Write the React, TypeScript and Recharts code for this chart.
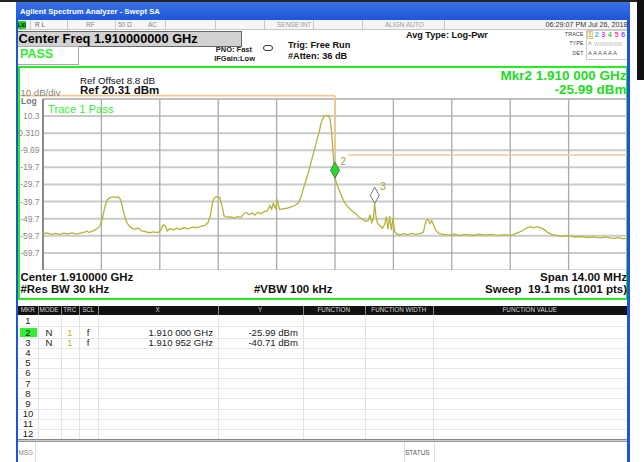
import React from 'react';
import { ComposedChart, Line, XAxis, YAxis, ReferenceLine, ReferenceDot } from 'recharts';

// ---------------- data ----------------
const centerMHz = 1910;
const startMHz = 1903;
const stopMHz = 1917;
const refLevelDbm = 20.31;
const bottomDbm = -79.69;
const yTopDomain = 23.2;

const traceOffsetMHz = [
  -7.0, -6.9, -6.8, -6.7, -6.6, -6.5, -6.4, -6.3, -6.2, -6.1, -6.0, -5.95, -5.9, -5.85, -5.75, -5.65, -5.58, -5.52,
  -5.46, -5.4, -5.32, -5.25, -5.2, -5.14, -5.09, -5.03, -4.98, -4.9, -4.8, -4.72, -4.65, -4.55, -4.45, -4.35, -4.25,
  -4.18, -4.12, -4.07, -4.02, -3.96, -3.88, -3.8, -3.72, -3.62, -3.52, -3.42, -3.32, -3.22, -3.12, -3.04, -2.98,
  -2.93, -2.88, -2.82, -2.76, -2.71, -2.66, -2.6, -2.5, -2.42, -2.34, -2.25, -2.18, -2.12, -2.06, -1.98, -1.92,
  -1.85, -1.78, -1.7, -1.62, -1.56, -1.52, -1.48, -1.43, -1.38, -1.33, -1.25, -1.15, -1.05, -0.96, -0.88, -0.82,
  -0.77, -0.7, -0.63, -0.56, -0.49, -0.43, -0.38, -0.34, -0.3, -0.26, -0.21, -0.16, -0.12, -0.08, -0.04, 0.0, 0.05,
  0.1, 0.16, 0.22, 0.29, 0.36, 0.43, 0.5, 0.58, 0.66, 0.74, 0.8, 0.84, 0.88, 0.92, 0.952, 0.98, 1.02, 1.08, 1.14,
  1.19, 1.23, 1.27, 1.31, 1.35, 1.39, 1.43, 1.48, 1.55, 1.64, 1.74, 1.84, 1.94, 2.04, 2.12, 2.18, 2.23, 2.28, 2.32,
  2.37, 2.43, 2.5, 2.6, 2.72, 2.85, 3.0, 3.15, 3.3, 3.45, 3.6, 3.75, 3.9, 4.05, 4.2, 4.32, 4.42, 4.52, 4.6, 4.68,
  4.76, 4.84, 4.92, 5.0, 5.08, 5.18, 5.3, 5.45, 5.6, 5.75, 5.9, 6.05, 6.2, 6.35, 6.5, 6.65, 6.8, 6.9, 7.0,
];
const traceDbm = [
  -58.5, -58.0, -58.8, -58.3, -58.9, -58.2, -58.6, -58.0, -58.7, -58.1, -57.6, -56.9, -57.8, -57.3, -56.2, -54.5, -50.0, -43.0,
  -38.8, -37.4, -37.0, -37.3, -36.9, -38.5, -43.5, -49.5, -52.4, -54.8, -55.9, -55.2, -56.7, -57.2, -57.9, -57.4, -57.8,
  -56.5, -53.3, -53.8, -56.9, -55.4, -56.2, -55.3, -55.9, -55.0, -55.6, -54.6, -55.0, -54.2, -53.6, -51.8, -47.0,
  -39.5, -37.2, -36.8, -37.5, -42.0, -48.0, -48.8, -48.6, -49.2, -48.5, -48.9, -46.5, -46.2, -47.4, -46.3, -47.6,
  -46.0, -46.8, -45.6, -45.1, -42.0, -44.2, -40.6, -43.5, -39.2, -44.3, -44.0, -43.6, -42.8, -42.0, -40.5, -37.5,
  -33.0, -27.5, -22.0, -15.5, -9.0, -3.5, 1.0, 5.5, 8.5, 10.3, 10.6, 10.5, 9.0, 0.5, -13.5, -25.99, -30.0,
  -33.0, -36.5, -39.8, -42.3, -44.0, -45.6, -46.8, -48.9, -50.0, -51.4, -50.6, -47.4, -52.0, -49.5, -40.71, -48.0, -52.5, -53.8, -55.3,
  -53.0, -48.5, -55.8, -48.2, -56.4, -49.5, -57.2, -58.6, -59.2, -58.4, -59.0, -58.3, -58.9, -58.4, -57.5, -51.0, -50.2, -52.5, -50.8,
  -54.0, -57.0, -58.4, -58.9, -59.3, -58.8, -59.4, -58.9, -59.5, -58.7, -59.3, -58.9, -59.6, -59.0, -59.4, -58.6, -57.5, -56.3, -55.0, -54.4,
  -55.0, -54.3, -54.9, -55.8, -57.4, -58.8, -59.5, -60.0, -59.6, -60.4, -60.1, -60.7, -60.3, -60.9, -60.5, -61.2, -60.8, -61.5, -61.2,
];

const gridFreqMHz = [1903, 1904.4, 1905.8, 1907.2, 1908.6, 1910, 1911.4, 1912.8, 1914.2, 1915.6, 1917];
const gridDbm = [20.31, 10.31, 0.31, -9.69, -19.69, -29.69, -39.69, -49.69, -59.69, -69.69, -79.69];
const yTickLabels = ['', '10.3', '0.310', '-9.69', '-19.7', '-29.7', '-39.7', '-49.7', '-59.7', '-69.7', ''];

// limit line: upper run (starts left of the display), drop at center, lower run
const limitUpperFreq = [1902.45, 1910, 1910];
const limitUpperDbm = [22.24, 22.24, -11.3];
const limitLowerFreq = [1910.31, 1917];
const limitLowerDbm = [-12.45, -12.45];

const markerNames = ['2', '3'];
const markerFreqMHz = [1910.0, 1910.952];
const markerDbm = [-25.99, -40.71];
const markerFills = ['#22dd22', '#ffffff'];

const tableRows = ['1', '2', '3', '4', '5', '6', '7', '8', '9', '10', '11', '12'];
const tableModes = ['', 'N', 'N'];
const tableTrc = ['', '1', '1'];
const tableScl = ['', 'f', 'f'];
const tableX = ['', '1.910 000 GHz', '1.910 952 GHz'];
const tableY = ['', '-25.99 dBm', '-40.71 dBm'];

const traceData = traceOffsetMHz.map((o, i) => ({ f: centerMHz + o, v: traceDbm[i] }));

// ---------------- helpers ----------------
const FONT = '"Liberation Sans", Arial, sans-serif';

type TP = {
  x?: number; r?: number; cx?: number; cy: number; fs: number; bold?: boolean; color?: string; children: React.ReactNode;
};
const T = ({ x, r, cx, cy, fs, bold, color = '#000', children }: TP) => {
  const style: React.CSSProperties = {
    position: 'absolute', top: cy - fs * 0.59, fontSize: fs, lineHeight: `${fs * 1.2}px`,
    fontWeight: bold ? 700 : 400, color, whiteSpace: 'pre', fontFamily: FONT,
  };
  if (x !== undefined) style.left = x;
  if (r !== undefined) style.right = 644 - r;
  if (cx !== undefined) { style.left = cx; style.transform = 'translateX(-50%)'; }
  return <div style={style}>{children}</div>;
};

const Box = (p: { l: number; t: number; w: number; h: number; bg?: string; style?: React.CSSProperties }) => (
  <div style={{ position: 'absolute', left: p.l, top: p.t, width: p.w, height: p.h, background: p.bg, boxSizing: 'border-box', ...p.style }} />
);

const Diamond = (props: any) => {
  const { cx, cy, fill, name } = props;
  if (cx == null || cy == null) return null;
  return (
    <g>
      <polygon points={`${cx},${cy} ${cx - 4.5},${cy - 8} ${cx},${cy - 16} ${cx + 4.5},${cy - 8}`} fill={fill} stroke="#555" strokeWidth={0.8} />
      <text x={cx + 5.5} y={cy - 13} fontSize={10} fill="#a8a030" fontFamily={FONT}>{name}</text>
    </g>
  );
};

const cols = [
  { l: 18, r: 37.5, h: 'MKR' }, { l: 37.5, r: 60.5, h: 'MODE' }, { l: 60.5, r: 79, h: 'TRC' }, { l: 79, r: 97.5, h: 'SCL' },
  { l: 97.5, r: 217.5, h: 'X' }, { l: 217.5, r: 302.5, h: 'Y' }, { l: 302.5, r: 365, h: 'FUNCTION' },
  { l: 365, r: 432.5, h: 'FUNCTION WIDTH' }, { l: 432.5, r: 627, h: 'FUNCTION VALUE' },
];
const rowCenter = (i: number) => (i === 0 ? 321 : 332.5 + (i - 1) * 10.15);

const LIMIT = '#f5c88c';

export default function App() {
  return (
    <div style={{ position: 'absolute', left: 0, top: 0, width: 644, height: 462, background: '#fff', overflow: 'hidden', fontFamily: FONT }}>
      {/* window chrome */}
      <Box l={0} t={0} w={644} h={2} bg="#222" />
      <Box l={637} t={0} w={7} h={80} bg="#111" />
      <Box l={16} t={2} w={614} h={17.5} bg="linear-gradient(to bottom, #3a72e8, #1c55d6)" />
      <T x={20} cy={11.5} fs={7.7} bold color="#fff">Agilent Spectrum Analyzer - Swept SA</T>

      {/* status row */}
      <Box l={18} t={19.5} w={609} h={10.5} bg="#f6f6f6" style={{ borderBottom: '1px solid #c8c8c8' }} />
      {[30, 66.7, 115, 165, 215, 264, 313, 362, 444].map((x) => (
        <Box key={x} l={x} t={19.5} w={1} h={10.5} bg="#c8c8c8" />
      ))}
      <Box l={17.5} t={21} w={8.5} h={7.5} bg="#22cc22" />
      <T x={18} cy={24.7} fs={5} bold color="#000">LXI</T>
      <T x={35} cy={24.8} fs={6.5} color="#666">R L</T>
      <T x={86} cy={24.8} fs={6.5} color="#888">RF</T>
      <T x={118} cy={24.8} fs={6.5} color="#888">50 Ω</T>
      <T x={148} cy={24.8} fs={6.5} color="#888">AC</T>
      <T x={277} cy={24.8} fs={6.5} color="#999">SENSE:INT</T>
      <T x={385} cy={24.8} fs={6.5} color="#999">ALIGN AUTO</T>
      <T r={627.5} cy={24.8} fs={7.2} color="#333">06:29:07 PM Jul 26, 2018</T>

      {/* center freq / pass */}
      <Box l={17} t={30.5} w={225} h={16} bg="#d2d2d2" style={{ border: '1px solid #666' }} />
      <T x={18.5} cy={38.5} fs={12.8} bold color="#000">Center Freq 1.910000000 GHz</T>
      <Box l={17} t={46} w={62} h={18.5} bg="#fff" style={{ border: '1px solid #aaa' }} />
      <T x={20} cy={54.5} fs={12.5} bold color="#33ee33">PASS</T>
      <T r={252} cy={49} fs={7.5} bold color="#222">PNO: Fast</T>
      <T r={255} cy={58} fs={7.5} bold color="#222">IFGain:Low</T>
      <Box l={263} t={45} w={10} h={6} style={{ border: '1px solid #333', borderRadius: 3 }} />
      <T x={288} cy={45.5} fs={9.2} bold color="#111">Trig: Free Run</T>
      <T x={288} cy={56.5} fs={9.2} bold color="#111">#Atten: 36 dB</T>
      <T x={406} cy={35.5} fs={9.1} bold color="#111">Avg Type: Log-Pwr</T>
      <T r={583.5} cy={34} fs={5.5} color="#444">TRACE</T>
      <T r={583.5} cy={43.5} fs={5.5} color="#444">TYPE</T>
      <T r={583.5} cy={53.5} fs={5.5} color="#444">DET</T>
      <Box l={586} t={30} w={42} h={30} style={{ border: '1px solid #ccc' }} />
      <Box l={586.5} t={30.5} w={6} h={8.5} style={{ border: '1px solid #e8c880' }} />
      {['1', '2', '3', '4', '5', '6'].map((n, i) => (
        <T key={n} x={588 + i * 6.6} cy={34.7} fs={7.5} bold color={['#e8b040', '#22ccdd', '#dd44dd', '#44cc44', '#ff44aa', '#8855ff'][i]}>{n}</T>
      ))}
      <T x={588} cy={43.5} fs={5.5} color="#999">A</T>
      <T x={594} cy={43.5} fs={5} color="#bbb">WWWWWW</T>
      <T x={588} cy={53.5} fs={6} color="#555">A A A A A A</T>

      {/* main green frame */}
      <Box l={18} t={65.5} w={610} h={234} style={{ border: '2.5px solid #22ee22' }} />
      <T r={626.5} cy={75.5} fs={13.5} bold color="#22dd22">Mkr2 1.910 000 GHz</T>
      <T r={626.5} cy={89.5} fs={13.5} bold color="#22dd22">-25.99 dBm</T>
      <T x={80} cy={80.5} fs={9.8} color="#111">Ref Offset 8.8 dB</T>

      <div style={{ position: 'absolute', left: 18, top: 94 }}>
        <ComposedChart width={609} height={176} margin={{ top: 0, right: 0, bottom: 0, left: 0 }}>
          <XAxis dataKey="f" type="number" domain={[startMHz, stopMHz]} hide allowDataOverflow />
          <YAxis
            type="number"
            domain={[bottomDbm, yTopDomain]}
            ticks={gridDbm}
            interval={0}
            width={25}
            tickLine={false}
            axisLine={false}
            tickSize={1}
            tickMargin={2.5}
            allowDataOverflow
            tick={{ fill: '#8a8a8a', fontSize: 8.5, fontFamily: FONT }}
            tickFormatter={(v: number) => yTickLabels[gridDbm.findIndex((g) => Math.abs(g - v) < 0.001)] ?? ''}
          />
          {gridDbm.map((g, i) => (
            <ReferenceLine key={'h' + i} y={g} stroke={i === 0 ? '#aaaaaa' : '#cacaca'} strokeWidth={i === 0 || i === gridDbm.length - 1 ? 1.5 : 2} />
          ))}
          {gridFreqMHz.map((f, i) => (
            <ReferenceLine
              key={'v' + i}
              segment={[{ x: f, y: bottomDbm }, { x: f, y: refLevelDbm }]}
              stroke={i === 0 ? '#8a8a8a' : '#ababab'}
              strokeWidth={i === 0 ? 2 : 1.3}
            />
          ))}
          <ReferenceLine
            segment={[{ x: limitUpperFreq[0], y: limitUpperDbm[0] }, { x: limitUpperFreq[1], y: limitUpperDbm[1] }]}
            stroke={LIMIT} strokeWidth={1.6} ifOverflow="visible"
          />
          <ReferenceLine
            segment={[{ x: limitUpperFreq[1], y: limitUpperDbm[1] }, { x: limitUpperFreq[2], y: limitUpperDbm[2] }]}
            stroke={LIMIT} strokeWidth={1.6} ifOverflow="visible"
          />
          <ReferenceLine
            segment={[{ x: limitLowerFreq[0], y: limitLowerDbm[0] }, { x: limitLowerFreq[1], y: limitLowerDbm[1] }]}
            stroke={LIMIT} strokeWidth={1.6} ifOverflow="visible"
          />
          <Line data={traceData} dataKey="v" type="linear" stroke="#b6b438" strokeWidth={1.3} dot={false} isAnimationActive={false} />
          {markerNames.map((n, i) => (
            <ReferenceDot
              key={'m' + n}
              x={markerFreqMHz[i]}
              y={markerDbm[i]}
              r={5}
              shape={(p: any) => <Diamond {...p} fill={markerFills[i]} name={n} />}
            />
          ))}
        </ComposedChart>
      </div>
      <T x={20.5} cy={92.3} fs={9.6} color="#888">10 dB/div</T>
      <T x={21} cy={101.5} fs={8.5} bold color="#777">Log</T>
      <T x={80} cy={91} fs={11.5} bold color="#111">Ref 20.31 dBm</T>
      <T x={48} cy={109.3} fs={11.2} color="#33ee33">Trace 1 Pass</T>

      {/* bottom annotation */}
      <T x={20.5} cy={277.7} fs={11.4} bold color="#111">Center 1.910000 GHz</T>
      <T x={20.5} cy={290} fs={11.4} bold color="#111">#Res BW 30 kHz</T>
      <T x={254} cy={290} fs={11.4} bold color="#111">#VBW 100 kHz</T>
      <T r={627} cy={278} fs={11.5} bold color="#111">Span 14.00 MHz</T>
      <T r={627} cy={290} fs={11.5} bold color="#111">{'Sweep  19.1 ms (1001 pts)'}</T>

      {/* marker table */}
      <Box l={18} t={305.5} w={609} h={9} bg="#111" />
      {cols.map((c) => (
        <React.Fragment key={c.h}>
          <Box l={c.r} t={305.5} w={1} h={9} bg="#888" />
          <T cx={(c.l + c.r) / 2} cy={310} fs={6.3} color="#d8d8d8">{c.h}</T>
        </React.Fragment>
      ))}
      {tableRows.map((n, i) => (
        <Box key={'rl' + n} l={18} t={rowCenter(i) + 5} w={609} h={1} bg="#e8e8e8" />
      ))}
      {cols.slice(0, -1).map((c) => (
        <Box key={'cl' + c.h} l={c.r} t={314.5} w={1} h={125} bg="#e2e2e2" />
      ))}
      <Box l={19.5} t={327.7} w={17.5} h={9.5} bg="#33ee33" />
      {tableRows.map((n, i) => (
        <React.Fragment key={'r' + n}>
          <T cx={28} cy={rowCenter(i)} fs={9.5} color="#222">{n}</T>
          {i < tableModes.length && (
            <>
              <T cx={49} cy={rowCenter(i)} fs={9.6} color="#222">{tableModes[i]}</T>
              <T cx={70} cy={rowCenter(i)} fs={9.6} color="#c8b820">{tableTrc[i]}</T>
              <T cx={88} cy={rowCenter(i)} fs={9.6} color="#222">{tableScl[i]}</T>
              <T r={213} cy={rowCenter(i)} fs={9.6} color="#222">{tableX[i]}</T>
              <T r={298} cy={rowCenter(i)} fs={9.6} color="#222">{tableY[i]}</T>
            </>
          )}
        </React.Fragment>
      ))}
      <Box l={18} t={439} w={609} h={1.2} bg="#888" />
      <Box l={18} t={440.2} w={609} h={1} bg="#ccc" />
      <Box l={18} t={441.2} w={609} h={1.2} bg="#999" />
      <Box l={35} t={442.4} w={1} h={20} bg="#ddd" />
      <Box l={404} t={442.4} w={1} h={20} bg="#ddd" />
      <Box l={434} t={442.4} w={1} h={20} bg="#ddd" />
      <T x={18.5} cy={453} fs={6.3} color="#888">MSG</T>
      <T x={405} cy={452.5} fs={6.5} color="#555">STATUS</T>

      {/* window side edges */}
      <Box l={16} t={19} w={2} h={443} bg="#1c55d6" />
      <Box l={627} t={19} w={3} h={443} bg="#1c55d6" />
    </div>
  );
}
